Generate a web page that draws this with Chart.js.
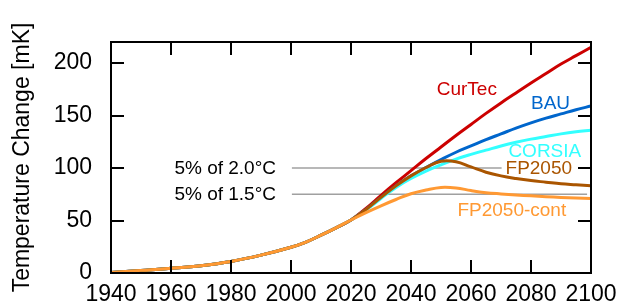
<!DOCTYPE html>
<html>
<head>
<meta charset="utf-8">
<script src="https://cdn.jsdelivr.net/npm/chart.js@4/dist/chart.umd.min.js"></script>
<style>
html,body{margin:0;padding:0;background:#fff;}
#wrap{width:622px;height:304px;}
</style>
</head>
<body>
<div id="wrap"><canvas id="c" width="622" height="304"></canvas></div>
<script>
// ---- data ----
const years = [1940,1950,1960,1970,1980,1990,2000,2005,2010,2015,2020,2025,2030,2035,2040,2045,2050,2055,2060,2065,2070,2075,2080,2085,2090,2095,2100];
const history = [0.5, 2.5, 4.5, 7, 11, 17, 24.5, 29.5, 36, 43, 50.5];
const curTec   = [61.5, 74, 86, 97.5, 109, 120, 131, 141.5, 152, 162, 171.5, 181, 190, 199, 207, 215];
const bau      = [60.5, 72, 83, 92.5, 100.5, 108, 115, 121, 127, 132.5, 138, 143, 147.5, 151.5, 155.5, 159];
const corsia   = [60, 71, 81.5, 90, 97, 103, 108.5, 113, 117, 121, 124.5, 127.5, 130, 132.5, 134.5, 136];
const fp2050   = [60.5, 72, 83, 92.5, 100.5, 106.5, 106, 101, 96, 92.5, 90, 88, 86.5, 85, 84, 83];
const fp2050c  = [57.5, 64, 70, 75.5, 79, 81.5, 81, 78.5, 76.5, 75.3, 74.3, 73.5, 72.7, 72, 71.5, 71];
const refLine20 = [[2000.3, 100], [2070.2, 100]];
const refLine15 = [[2000.3, 75], [2098.7, 75]];
const xTicks = [1940,1960,1980,2000,2020,2040,2060,2080,2100];
const yTicks = [0,50,100,150,200];
const seriesNames = ['CurTec','BAU','CORSIA','FP2050','FP2050-cont'];
const refNames = ['5% of 2.0°C','5% of 1.5°C'];

const colors = {CurTec:'#cc0000', BAU:'#0066cc', CORSIA:'#33ffff', FP2050:'#aa5500', 'FP2050-cont':'#ff9933'};

function pts(future){
  const all = history.concat(future);
  return years.map((y,i)=>({x:y, y:all[i]}));
}
const futures = [curTec, bau, corsia, fp2050, fp2050c];

// label anchor positions (in data coords)
const labelPos = [
  {text:seriesNames[0], x:2058.6, y:174.3, color:colors.CurTec, align:'center'},
  {text:seriesNames[1], x:2086.5, y:161.6, color:colors.BAU, align:'center'},
  {text:seriesNames[2], x:2084.6, y:115.5, color:colors.CORSIA, align:'center'},
  {text:seriesNames[3], x:2082.6, y:99.7, color:colors.FP2050, align:'center'},
  {text:seriesNames[4], x:2073.6, y:59.7, color:colors['FP2050-cont'], align:'center'},
  {text:refNames[0], x:1995, y:99, color:'#000', align:'right'},
  {text:refNames[1], x:1995, y:74.5, color:'#000', align:'right'}
];

Chart.defaults.font.family = "'Liberation Sans', Arial, sans-serif";
Chart.defaults.color = '#000';

const datasets = [];
const orders = [5,4,3,2,1];
seriesNames.forEach((n,i)=>{
  datasets.push({
    label:n, data:pts(futures[i]), borderColor:colors[n], borderWidth:3,
    pointRadius:0, tension:0.4, fill:false, order:orders[i]
  });
});
[refLine20, refLine15].forEach((l,i)=>{
  datasets.push({
    label:refNames[i], data:l.map(p=>({x:p[0], y:p[1]})), borderColor:'#a0a0a0', borderWidth:1.5,
    pointRadius:0, fill:false, order:6
  });
});

const framePlugin = {
  id:'frame',
  afterDatasetsDraw(chart){
    const ctx = chart.ctx, a = chart.chartArea;
    const xs = chart.scales.x, ys = chart.scales.y;
    ctx.save();
    ctx.font = "19px 'Liberation Sans', Arial, sans-serif";
    ctx.textBaseline = 'middle';
    labelPos.forEach(l=>{
      ctx.fillStyle = l.color;
      ctx.textAlign = l.align;
      ctx.fillText(l.text, xs.getPixelForValue(l.x), ys.getPixelForValue(l.y));
    });
    ctx.strokeStyle = '#000';
    ctx.lineWidth = 2;
    const tl = 13;
    ctx.beginPath();
    xTicks.forEach(v=>{
      const px = Math.round(xs.getPixelForValue(v));
      ctx.moveTo(px, a.bottom); ctx.lineTo(px, a.bottom - tl);
      ctx.moveTo(px, a.top); ctx.lineTo(px, a.top + tl);
    });
    yTicks.forEach(v=>{
      const py = Math.round(ys.getPixelForValue(v));
      ctx.moveTo(a.left, py); ctx.lineTo(a.left + tl, py);
      ctx.moveTo(a.right, py); ctx.lineTo(a.right - tl, py);
    });
    ctx.stroke();
    ctx.strokeRect(a.left, a.top, a.right - a.left, a.bottom - a.top);
    ctx.restore();
  }
};

function zeroPad(s){ s.paddingLeft = 0; s.paddingRight = 0; s.paddingTop = 0; s.paddingBottom = 0; }

new Chart(document.getElementById('c'), {
  type:'line',
  data:{datasets},
  options:{
    responsive:false, animation:false, devicePixelRatio:1,
    layout:{padding:{top:42, right:31, left:0, bottom:0}},
    plugins:{legend:{display:false}, tooltip:{enabled:false}},
    scales:{
      x:{type:'linear', min:1940, max:2100,
         afterFit(s){ s.height = 31; zeroPad(s); },
         afterBuildTicks(s){ s.ticks = xTicks.map(v=>({value:v})); },
         grid:{display:false, drawTicks:false}, border:{display:false},
         ticks:{font:{size:23}, padding:8, maxRotation:0, autoSkip:false, callback:(v)=>String(v)}},
      y:{type:'linear', min:0, max:220,
         afterFit(s){ s.width = 111; zeroPad(s); },
         afterBuildTicks(s){ s.ticks = yTicks.map(v=>({value:v})); },
         grid:{display:false, drawTicks:false}, border:{display:false},
         ticks:{font:{size:23}, padding:19, callback:(v)=>String(v)},
         title:{display:true, text:'Temperature Change [mK]', font:{size:23}, padding:{top:9,bottom:0}}}
    }
  },
  plugins:[framePlugin]
});
</script>
</body>
</html>
